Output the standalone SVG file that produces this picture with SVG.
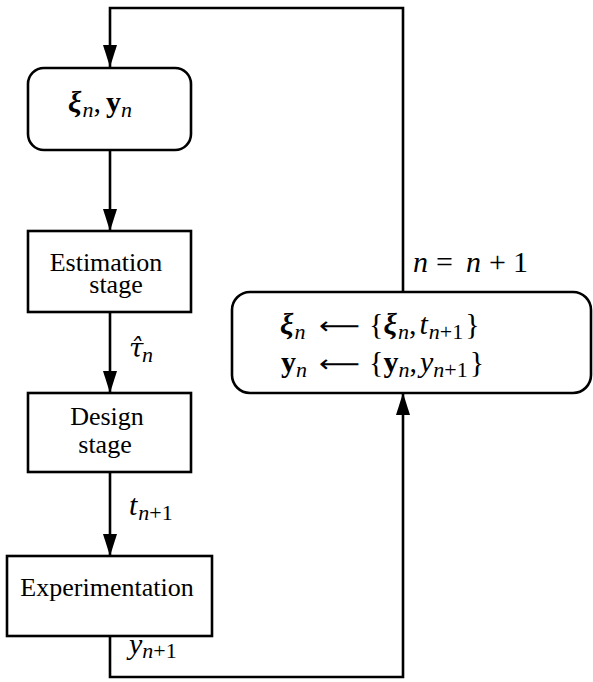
<svg xmlns="http://www.w3.org/2000/svg" width="593" height="682" viewBox="0 0 593 682">
<style>
.box{fill:#fff;stroke:#000;stroke-width:2.6}
.ln{fill:none;stroke:#000;stroke-width:2.6}
.t{font-family:"Liberation Serif","Times New Roman",serif;font-size:26px;fill:#000}
.m{font-family:"Liberation Serif","Times New Roman",serif;font-size:30px;font-style:italic;fill:#000}
.b{font-weight:bold}
.bi{font-weight:bold;font-style:italic}
.up{font-style:normal}
.s{font-size:22px}
.arr{font-family:"DejaVu Sans","DejaVu Serif",sans-serif;font-style:normal;font-size:24px}
.hat{font-family:"DejaVu Serif",serif;font-size:26px;font-style:italic;fill:#000}
</style>
<defs>
<marker id="ah" markerUnits="userSpaceOnUse" markerWidth="22" markerHeight="14" refX="22" refY="7" orient="auto">
<path d="M0,0 L22,7 L0,14 Z" fill="#000"/>
</marker>
</defs>
<g id="connectors">
<path class="ln" d="M403,292 V8 H110 V67" marker-end="url(#ah)"/>
<path class="ln" d="M110,150 V231" marker-end="url(#ah)"/>
<path class="ln" d="M110,312 V393" marker-end="url(#ah)"/>
<path class="ln" d="M110,472 V556" marker-end="url(#ah)"/>
<path class="ln" d="M110,636 V677 H403 V393" marker-end="url(#ah)"/>
<text class="hat" x="129" y="357">τ̂</text>
<text class="m s" x="142" y="362">n</text>
<text class="m" x="129" y="515">t<tspan class="s" dx="1" dy="5">n</tspan><tspan class="s up">+1</tspan></text>
<text class="m" x="129" y="654">y<tspan class="s" dy="4">n</tspan><tspan class="s up">+1</tspan></text>
<text class="m" y="272"><tspan x="413">n</tspan><tspan class="up" x="436">=</tspan><tspan x="466">n</tspan><tspan class="up" x="489">+</tspan><tspan class="up" x="513">1</tspan></text>
</g>
<g id="state">
<rect class="box" x="28" y="68" width="163" height="82" rx="16"/>
<text class="m" x="68" y="112"><tspan class="bi">ξ</tspan><tspan class="s" dx="1" dy="5">n</tspan><tspan class="up" dy="-5">,</tspan><tspan class="b up" dx="5">y</tspan><tspan class="s" dy="5">n</tspan></text>
</g>
<g id="estimation">
<rect class="box" x="28" y="231" width="163" height="81"/>
<text class="t" x="106" y="271" text-anchor="middle">Estimation</text>
<text class="t" x="116" y="293" text-anchor="middle">stage</text>
</g>
<g id="design">
<rect class="box" x="28" y="393" width="163" height="79"/>
<text class="t" x="107" y="425" text-anchor="middle">Design</text>
<text class="t" x="105" y="453" text-anchor="middle">stage</text>
</g>
<g id="experimentation">
<rect class="box" x="7" y="556" width="205" height="80"/>
<text class="t" x="107" y="596" text-anchor="middle">Experimentation</text>
</g>
<g id="update">
<rect class="box" x="232" y="292" width="359" height="101" rx="18"/>
<text class="m" x="280" y="334"><tspan class="bi">ξ</tspan><tspan class="s" dx="1" dy="5">n</tspan><tspan class="arr" x="319" dy="-5" textLength="41" lengthAdjust="spacingAndGlyphs">⟵</tspan><tspan class="up" x="369">{</tspan><tspan class="bi">ξ</tspan><tspan class="s" dx="1" dy="5">n</tspan><tspan class="up" dy="-5">,</tspan><tspan dx="3">t</tspan><tspan class="s" dx="1" dy="5">n</tspan><tspan class="s up">+1</tspan><tspan class="up" dx="2" dy="-5">}</tspan></text>
<text class="m" x="281" y="372"><tspan class="b up">y</tspan><tspan class="s" dy="5">n</tspan><tspan class="arr" x="319" dy="-5" textLength="41" lengthAdjust="spacingAndGlyphs">⟵</tspan><tspan class="up" x="369">{</tspan><tspan class="b up">y</tspan><tspan class="s" dy="5">n</tspan><tspan class="up" dy="-5">,</tspan><tspan dx="3">y</tspan><tspan class="s" dy="5">n</tspan><tspan class="s up">+1</tspan><tspan class="up" dx="2" dy="-5">}</tspan></text>
</g>
</svg>
